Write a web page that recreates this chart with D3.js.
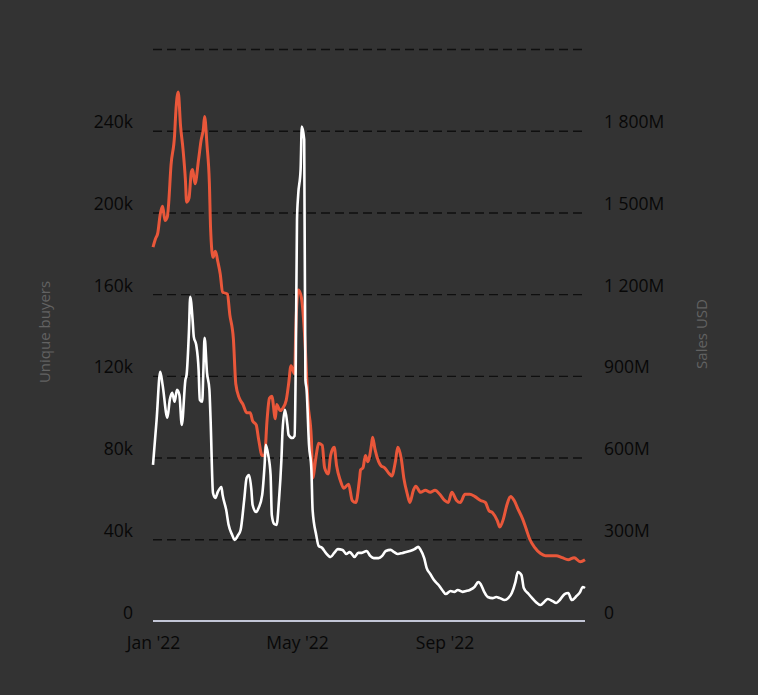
<!DOCTYPE html>
<html>
<head>
<meta charset="utf-8">
<script src="https://cdn.jsdelivr.net/npm/d3@7"></script>
<style>
  html, body { margin: 0; padding: 0; background: #333333; }
  svg { display: block; }
  text { font-family: "Open Sans", "Noto Sans", sans-serif; }
</style>
</head>
<body>
<svg id="chart" width="758" height="695"></svg>
<script>
// ---- DATA ----
// Unique buyers (thousands), sampled by day-of-year 2022 (0 = Jan 1)
const buyersDay = [0,2,4,6,8,10,12,13,15,18,19,21,23,25,27,28,30,32,33,35,38,40,42,43,45,47,48,50,52,54,56,58,62,64,67,69,72,75,78,81,83,86,88,91,93,95,97,99,102,103,106,108,111,113,115,118,119,121,123,124,127,129,132,133,136,138,141,143,146,148,151,153,156,159,163,166,169,172,173,175,177,179,182,183,185,188,190,193,197,199,202,204,207,209,212,214,217,219,223,227,231,235,239,243,246,249,253,256,260,264,268,273,277,280,283,287,289,292,295,298,301,304,308,311,314,318,323,327,331,336,341,346,351,356,360];
const buyersK = [183,187,190,199,203,196,198,204,223,238,249,259,242,231,216,205,207,220,221,214,226,235,241,247,233,214,192,178,181,176,170,161,160,150,138,116,109,106,102,102,98,96,89,81,81,98,109,110,99,106,103,104,108,116,125,121,143,162,160,157,133,108,89,70,81,87,86,75,72,81,85,76,69,65,67,59,58,69,74,75,81,78,86,90,84,78,76,75,72,71,78,85,79,70,62,58,64,66,63,64,63,64,62,59,58,63,59,58,62,62,61,59,58,54,53,49,46,50,57,61,59,55,50,45,40,36,33,32,32,32,31,30,31,29,30];

// Sales USD (millions), sampled by day-of-year 2022
const salesDay = [0,3,6,8,12,14,16,18,20,22,24,27,28,30,31,33,34,36,38,39,41,42,43,45,47,48,50,52,54,57,58,61,63,66,68,71,73,76,78,80,82,83,86,88,91,93,94,96,98,99,101,103,105,107,108,110,112,113,116,118,119,120,121,123,124,126,127,128,130,132,133,136,138,141,144,148,151,154,158,161,164,168,171,174,178,181,184,188,191,194,198,201,204,208,211,214,218,221,223,226,228,231,234,238,241,244,248,251,254,258,261,264,268,271,273,276,279,283,286,289,293,296,299,302,304,307,309,313,316,319,323,326,329,333,336,339,343,346,349,353,356,358,360];
const salesM = [573,738,915,867,746,812,838,805,849,830,720,885,904,1069,1190,1106,1043,1014,922,812,805,922,1040,911,849,738,470,452,474,492,463,408,353,316,298,316,334,445,525,536,481,426,400,415,463,573,647,610,536,389,356,353,445,591,702,775,720,683,672,680,959,1473,1565,1657,1815,1767,885,849,647,555,408,316,276,268,250,235,250,264,261,246,253,235,250,250,257,239,231,231,239,257,261,253,246,250,253,257,264,272,261,231,195,173,151,132,114,99,110,107,114,107,110,114,125,143,136,107,88,84,88,84,77,84,103,143,180,169,121,99,84,70,59,70,81,73,66,77,99,103,77,92,107,125,121];

// Axis ticks
const leftTicks = [0, 40000, 80000, 120000, 160000, 200000, 240000];
const rightTicks = [0, 300, 600, 900, 1200, 1500, 1800];
const gridTicks = [40000, 80000, 120000, 160000, 200000, 240000, 280000];
const xTickDates = ["2022-01-01", "2022-05-01", "2022-09-01"];

// ---- CHART ----
(function () {
const svg = d3.select("#chart");
const W = 758, H = 695;
const mL = 153, mR = 585, mT = 49, mB = 621;

const base = new Date(2022, 0, 1);
const dayToDate = d => d3.timeDay.offset(base, d);
const parse = d3.timeParse("%Y-%m-%d");

const x = d3.scaleTime().domain([base, dayToDate(360)]).range([mL, mR]);
const yL = d3.scaleLinear().domain([0, 280000]).range([mB, mT]);
const yR = d3.scaleLinear().domain([0, 2100]).range([mB, mT]);

svg.append("rect").attr("width", W).attr("height", H).attr("fill", "#333333");

// gridlines
const grid = svg.append("g")
  .attr("transform", `translate(${mL},0)`)
  .call(d3.axisLeft(yL).tickValues(gridTicks).tickSize(-(mR - mL)).tickFormat(""));
grid.select(".domain").remove();
grid.selectAll(".tick line")
  .attr("stroke", "#0f0f0f")
  .attr("stroke-width", 1.4)
  .attr("stroke-dasharray", "9,5");

// bottom axis line
svg.append("line")
  .attr("x1", mL).attr("x2", mR)
  .attr("y1", yL(0)).attr("y2", yL(0))
  .attr("stroke", "#c3c6d6").attr("stroke-width", 2);

// lines
const buyersData = buyersDay.map((d, i) => ({ date: dayToDate(d), v: buyersK[i] * 1000 }));
const salesData = salesDay.map((d, i) => ({ date: dayToDate(d), v: salesM[i] }));

const lineB = d3.line().x(d => x(d.date)).y(d => yL(d.v)).curve(d3.curveMonotoneX);
const lineS = d3.line().x(d => x(d.date)).y(d => yR(d.v)).curve(d3.curveMonotoneX);

svg.append("path").datum(buyersData)
  .attr("d", lineB).attr("fill", "none")
  .attr("stroke", "#e9573a").attr("stroke-width", 3)
  .attr("stroke-linejoin", "round");

svg.append("path").datum(salesData)
  .attr("d", lineS).attr("fill", "none")
  .attr("stroke", "#ffffff").attr("stroke-width", 2.6)
  .attr("stroke-linejoin", "round");

const styleTick = sel => sel
  .attr("fill", "#080808")
  .style("font-size", "17.5px")
  .style("font-weight", "500")
  .style("font-family", "'Open Sans', sans-serif");

// left axis labels
const fmtL = d => d === 0 ? "0" : (d / 1000) + "k";
const gL = svg.append("g")
  .attr("transform", "translate(133,0)")
  .call(d3.axisLeft(yL).tickValues(leftTicks).tickSize(0).tickPadding(0).tickFormat(fmtL));
gL.select(".domain").remove();
gL.selectAll("text").attr("dy", "-3px").call(styleTick);

// right axis labels
const loc = d3.formatLocale({ decimal: ".", thousands: " ", grouping: [3], currency: ["$", ""] });
const fmtR = d => d === 0 ? "0" : loc.format(",")(d) + "M";
const gR = svg.append("g")
  .attr("transform", "translate(604,0)")
  .call(d3.axisRight(yR).tickValues(rightTicks).tickSize(0).tickPadding(0).tickFormat(fmtR));
gR.select(".domain").remove();
gR.selectAll("text").attr("dy", "-3px").call(styleTick);

// x axis labels
const gX = svg.append("g")
  .attr("transform", `translate(0,${mB})`)
  .call(d3.axisBottom(x).tickValues(xTickDates.map(parse)).tickSize(0).tickPadding(16)
    .tickFormat(d3.timeFormat("%b '%y")));
gX.select(".domain").remove();
gX.selectAll("text").call(styleTick);

// axis titles
svg.append("text")
  .attr("transform", "translate(50,332) rotate(-90)")
  .attr("text-anchor", "middle")
  .attr("fill", "#626262")
  .style("font-size", "15px")
  .text("Unique buyers");

svg.append("text")
  .attr("transform", "translate(707,334) rotate(-90)")
  .attr("text-anchor", "middle")
  .attr("fill", "#626262")
  .style("font-size", "15px")
  .text("Sales USD");
})();
</script>
</body>
</html>
